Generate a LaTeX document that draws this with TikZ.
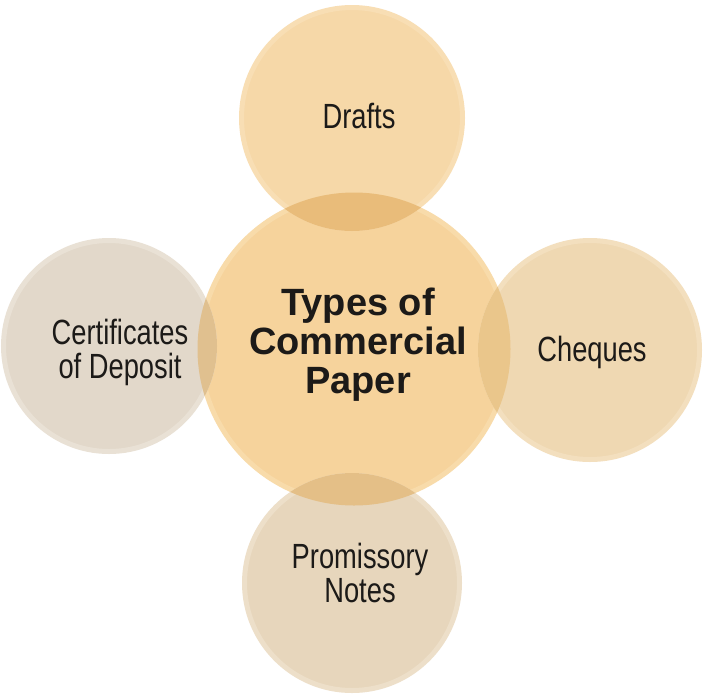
\documentclass[tikz,border=0pt]{standalone}
\usepackage{fontspec}
\setmainfont{Liberation Sans}
\newfontfamily\narrowfont[FakeStretch=0.78]{Liberation Sans}
\definecolor{cmain}{HTML}{F6D39C}
\definecolor{crim}{HTML}{F8DBAA}
\definecolor{tmain}{HTML}{F6D8A8}
\definecolor{trim}{HTML}{F8DEB4}
\definecolor{lmain}{HTML}{E2D8CA}
\definecolor{lrim}{HTML}{E9E1D5}
\definecolor{rmain}{HTML}{EFD8B2}
\definecolor{rrim}{HTML}{F3DFBE}
\definecolor{bmain}{HTML}{E7D6BC}
\definecolor{brim}{HTML}{EDDFC9}
\definecolor{ovt}{HTML}{E9BC7A}
\definecolor{ovl}{HTML}{E0C08F}
\definecolor{ovr}{HTML}{EAC68B}
\definecolor{ovb}{HTML}{E4BF87}
\definecolor{txt}{HTML}{1C1A18}
\tikzset{
  bubble/.style={circle, inner sep=0pt, line width=5pt},
  satlabel/.style={align=center, text=txt, font=\narrowfont\fontsize{35}{34}\selectfont},
  mainlabel/.style={align=center, text=txt, font=\fontsize{38}{39}\selectfont\bfseries}
}
\begin{document}
\begin{tikzpicture}[x=1pt,y=-1pt]
\useasboundingbox (0,0) rectangle (720,697);
\fill[white] (0,0) rectangle (720,697);
% circles
\node[bubble, fill=cmain, draw=crim, minimum size=308pt] (c) at (354,349) {};
\node[bubble, fill=tmain, draw=trim, minimum size=221pt] (t) at (352,118) {};
\node[bubble, fill=lmain, draw=lrim, minimum size=211pt] (l) at (109,346) {};
\node[bubble, fill=rmain, draw=rrim, minimum size=219pt] (r) at (590,350) {};
\node[bubble, fill=bmain, draw=brim, minimum size=215pt] (b) at (352,583) {};
% overlaps
\begin{scope}
\clip (c.center) circle (156.5pt);
\fill[ovt] (t.center) circle (113pt);
\fill[ovl] (l.center) circle (108pt);
\fill[ovr] (r.center) circle (112pt);
\fill[ovb] (b.center) circle (110pt);
\end{scope}
% labels
\node[mainlabel] (cl) at (358,345) {Types of\\Commercial\\Paper};
\node[satlabel] (tl) at (359,116) {Drafts};
\node[satlabel] (ll) at (120,352) {Certificates\\of Deposit};
\node[satlabel] (rl) at (592,352) {Cheques};
\node[satlabel] (bl) at (360,573) {Promissory\\Notes};
\end{tikzpicture}
\end{document}
